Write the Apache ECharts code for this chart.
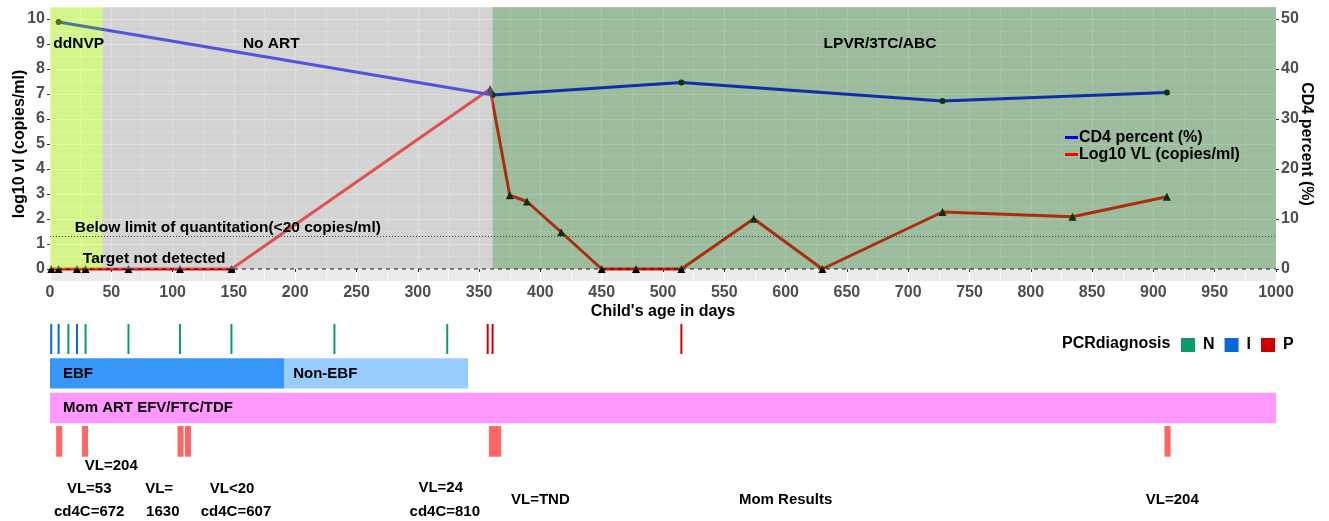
<!DOCTYPE html>
<html><head><meta charset="utf-8">
<script src="https://cdn.jsdelivr.net/npm/echarts@6/dist/echarts.min.js"></script>
<style>html,body{margin:0;padding:0;background:#fff}#c{width:1329px;height:521px}</style>
</head><body><div id="c"></div>
<script>
// ---------------- data ----------------
const vlDays   = [1, 7, 22, 29, 64, 106, 148, 359, 375, 389, 417, 450, 478, 515, 574, 630, 728, 834, 911];
const vlLog10  = [0, 0, 0, 0, 0, 0, 0, 7.2, 2.95, 2.7, 1.47, 0, 0, 0, 2.01, 0, 2.28, 2.09, 2.89];
const cd4Days    = [7, 361, 515, 728, 911];
const cd4Percent = [49.4, 34.8, 37.3, 33.6, 35.3];

const phaseLabels = ['ddNVP', 'No ART', 'LPVR/3TC/ABC'];
const phaseStart  = [0, 43, 361];
const phaseEnd    = [43, 361, 1000];

const refLineLabels = ['Target not detected', 'Below limit of quantitation(<20 copies/ml)'];
const refLineValues = [0, Math.log10(20)];

const pcrDays   = [1, 7, 15, 22, 29, 64, 106, 148, 232, 324, 357, 361, 515];
const pcrResult = ['I', 'I', 'N', 'I', 'N', 'N', 'N', 'N', 'N', 'N', 'P', 'P', 'P'];
const pcrClasses = ['N', 'I', 'P'];

const feedLabels = ['EBF', 'Non-EBF'];
const feedStart  = [0, 191];
const feedEnd    = [191, 341];

const momArtLabel = 'Mom ART EFV/FTC/TDF';
const momArtStart = 0;
const momArtEnd   = 1000;

const momResultDays = [7.5, 28.5, 106.5, 112.5, 360.5, 365.5, 911.5];

const momTexts   = ['VL=204', 'VL=53', 'cd4C=672', 'VL=', '1630', 'VL<20', 'cd4C=607', 'VL=24', 'cd4C=810', 'VL=TND', 'Mom Results', 'VL=204'];
const momTextDay = [50, 32, 32, 89, 92, 148.5, 151.7, 318.7, 322, 400, 600, 915.4];

// ---------------- layout / style ----------------
const FONT = "'Liberation Sans', Arial, Helvetica, sans-serif";
const Y_MIN = -0.48, Y_MAX = 10.48;
const CD4_MIN = -2.4, CD4_MAX = 52.4;
const PHASE_FILL = ['rgba(184,255,24,0.45)', 'rgba(181,181,181,0.45)', 'rgba(40,115,40,0.40)'];
const PHASE_LABEL_POS = [[2.7, 9.0, 'left'], [180.5, 9.0, 'center'], [677, 9.0, 'center']];
const REF_LABEL_POS = [[85, 0.42], [145, 1.64]];
const PCR_COLORS = {N: '#0D9A6B', I: '#0A68D6', P: '#CC0000'};
const FEED_COLORS = ['#3696FA', '#99CCFF'];
const ART_COLOR = '#FF99FF';
const MOM_TICK_COLOR = '#FF6666';
const MOM_TICK_WIDTH = 5; // days
// bottom panel rows (in bottom-axis units = px below grid top)
const ROW_PCR = [4, 34], ROW_FEED = [38.3, 68.5], ROW_ART = [72.7, 103.3], ROW_MOM = [106, 136.7];
const MOM_TEXT_ROW = [145.7, 169, 191.7, 169, 191.7, 169, 191.7, 168.3, 191.7, 180.3, 180.3, 180.3];

const AX_LABEL = {color: '#4D4D4D', fontWeight: 'bold', fontSize: 16, fontFamily: FONT};
const AX_NAME = {color: '#000', fontWeight: 'bold', fontSize: 16, fontFamily: FONT};
const TXT_FONT = 'bold 15.5px ' + FONT;
const BOT_FONT = 'bold 15px ' + FONT;

const chart = echarts.init(document.getElementById('c'), null, {renderer: 'canvas'});

function pcrSeries(cls) {
  return {
    type: 'custom', name: cls, xAxisIndex: 1, yAxisIndex: 2, z: 5, silent: true,
    itemStyle: {color: PCR_COLORS[cls]},
    data: pcrDays.filter((d, i) => pcrResult[i] === cls).map(d => [d]),
    encode: {x: 0},
    renderItem(params, api) {
      const a = api.coord([api.value(0), ROW_PCR[0]]);
      const b = api.coord([api.value(0), ROW_PCR[1]]);
      return {type: 'line', shape: {x1: a[0], y1: a[1], x2: b[0], y2: b[1]},
        style: {stroke: PCR_COLORS[cls], lineWidth: 2}};
    }
  };
}

function barItem(api, s, e, row, fill, label, pad) {
  const a = api.coord([s, row[0]]);
  const b = api.coord([e, row[1]]);
  return {type: 'group', children: [
    {type: 'rect', shape: {x: a[0], y: a[1], width: b[0] - a[0], height: b[1] - a[1]}, style: {fill: fill}},
    {type: 'text', x: a[0] + pad, y: (a[1] + b[1]) / 2,
      style: {text: label, font: BOT_FONT, fill: '#000', align: 'left', verticalAlign: 'middle'}}
  ]};
}

const option = {
  animation: false,
  backgroundColor: '#fff',
  grid: [
    {left: 50, right: 53, top: 7, height: 274, show: true, backgroundColor: '#EBEBEB', borderWidth: 0,
      containLabel: false, outerBoundsMode: 'none'},
    {left: 50, right: 53, top: 320, height: 200, containLabel: false, outerBoundsMode: 'none'}
  ],
  xAxis: [
    {gridIndex: 0, type: 'value', min: 0, max: 1000, interval: 50,
      name: "Child's age in days", nameLocation: 'middle', nameGap: 23, nameMoveOverlap: false, nameTextStyle: AX_NAME,
      axisLine: {show: false}, axisTick: {show: true, length: 3, lineStyle: {color: '#333'}},
      axisLabel: Object.assign({margin: 4, interval: 0, formatter: v => String(v)}, AX_LABEL),
      splitLine: {show: true, lineStyle: {color: '#fff', width: 1.2}},
      minorTick: {show: false, splitNumber: 2},
      minorSplitLine: {show: true, lineStyle: {color: '#fff', width: 0.6}}},
    {gridIndex: 1, type: 'value', min: 0, max: 1000, show: false}
  ],
  yAxis: [
    {gridIndex: 0, type: 'value', min: Y_MIN, max: Y_MAX, splitNumber: 11,
      name: 'log10 vl (copies/ml)', nameLocation: 'middle', nameGap: 22, nameMoveOverlap: false, nameTextStyle: AX_NAME,
      axisLine: {show: false}, axisTick: {show: true, length: 3, lineStyle: {color: '#333'}},
      axisLabel: Object.assign({margin: 5, showMinLabel: false, showMaxLabel: false}, AX_LABEL),
      splitLine: {show: true, lineStyle: {color: '#fff', width: 1.2}},
      minorTick: {show: false, splitNumber: 2},
      minorSplitLine: {show: true, lineStyle: {color: '#fff', width: 0.6}}},
    {gridIndex: 0, type: 'value', position: 'right', min: CD4_MIN, max: CD4_MAX, splitNumber: 5,
      name: 'CD4 percent (%)', nameLocation: 'middle', nameRotate: -90, nameGap: 22, nameMoveOverlap: false, nameTextStyle: AX_NAME,
      axisLine: {show: false}, axisTick: {show: true, length: 3, lineStyle: {color: '#333'}},
      axisLabel: Object.assign({margin: 5, showMinLabel: false, showMaxLabel: false}, AX_LABEL),
      splitLine: {show: false}},
    {gridIndex: 1, type: 'value', min: 0, max: 200, inverse: true, show: false}
  ],
  legend: [
    {data: [
        {name: 'CD4 percent (%)', icon: 'rect', itemStyle: {color: '#0000FF', borderWidth: 0}},
        {name: 'Log10 VL (copies/ml)', icon: 'rect', itemStyle: {color: '#FF0000', borderWidth: 0}}],
      orient: 'vertical', left: 1065, top: 129, itemWidth: 13, itemHeight: 3, itemGap: 0, padding: 0, z: 50,
      selectedMode: false,
      textStyle: {fontSize: 16, fontWeight: 'bold', color: '#000', fontFamily: FONT, lineHeight: 17, padding: [0, 0, 0, -4]}},
    {data: pcrClasses, orient: 'horizontal', left: 1181, top: 337, itemWidth: 14, itemHeight: 14, itemGap: 10,
      padding: 0, z: 50, selectedMode: false, icon: 'rect',
      textStyle: {fontSize: 16, fontWeight: 'bold', color: '#000', fontFamily: FONT, padding: [0, 0, 0, 3]}}
  ],
  graphic: [
    {type: 'text', left: 1062, top: 336, style: {text: 'PCRdiagnosis', font: 'bold 16px ' + FONT, fill: '#000'}}
  ],
  series: [
    {name: 'Log10 VL (copies/ml)', type: 'line', xAxisIndex: 0, yAxisIndex: 0, z: 2,
      data: vlDays.map((d, i) => [d, vlLog10[i]]),
      lineStyle: {color: '#FF0000', width: 3}, itemStyle: {color: '#000'},
      symbol: 'triangle', symbolSize: 8, showSymbol: true, silent: true},
    {name: 'CD4 percent (%)', type: 'line', xAxisIndex: 0, yAxisIndex: 1, z: 3,
      data: cd4Days.map((d, i) => [d, cd4Percent[i]]),
      lineStyle: {color: '#0000FF', width: 3}, itemStyle: {color: '#000'},
      symbol: 'circle', symbolSize: 6, showSymbol: true, silent: true},
    // regimen phase rectangles (semi-transparent, on top of lines)
    {type: 'custom', name: 'phases', xAxisIndex: 0, yAxisIndex: 0, z: 10, silent: true,
      data: phaseStart.map((s, i) => [s, phaseEnd[i]]),
      encode: {x: [0, 1]},
      renderItem(params, api) {
        const a = api.coord([api.value(0), 0]);
        const b = api.coord([api.value(1), 0]);
        const top = params.coordSys.y;
        return {type: 'rect', shape: {x: a[0], y: top, width: b[0] - a[0], height: a[1] - top},
          style: {fill: PHASE_FILL[params.dataIndex]}};
      }},
    // reference lines
    {type: 'custom', name: 'refLines', xAxisIndex: 0, yAxisIndex: 0, z: 20, silent: true,
      data: refLineValues.map(v => [0, v]),
      encode: {y: 1},
      renderItem(params, api) {
        const y = api.coord([0, api.value(1)])[1];
        const cs = params.coordSys;
        const dashed = params.dataIndex === 0;
        return {type: 'line', shape: {x1: cs.x, y1: y, x2: cs.x + cs.width, y2: y},
          style: {stroke: dashed ? '#111' : '#444', lineWidth: 1, lineDash: dashed ? [4, 4] : [1, 2]}};
      }},
    // text annotations in main panel
    {type: 'custom', name: 'annotations', xAxisIndex: 0, yAxisIndex: 0, z: 30, silent: true,
      data: phaseLabels.map((t, i) => [PHASE_LABEL_POS[i][0], PHASE_LABEL_POS[i][1], 0, i])
        .concat(refLineLabels.map((t, i) => [REF_LABEL_POS[i][0], REF_LABEL_POS[i][1], 1, i])),
      encode: {x: 0, y: 1},
      renderItem(params, api) {
        const p = api.coord([api.value(0), api.value(1)]);
        const kind = api.value(2), idx = api.value(3);
        const text = kind === 0 ? phaseLabels[idx] : refLineLabels[idx];
        const align = kind === 0 ? PHASE_LABEL_POS[idx][2] : 'center';
        return {type: 'text', x: p[0], y: p[1],
          style: {text: text, font: TXT_FONT, fill: '#000', align: align, verticalAlign: 'middle'}};
      }},
    // ---- bottom panel ----
    pcrSeries('N'), pcrSeries('I'), pcrSeries('P'),
    {type: 'custom', name: 'feeding', xAxisIndex: 1, yAxisIndex: 2, z: 5, silent: true,
      data: feedStart.map((s, i) => [s, feedEnd[i]]),
      encode: {x: [0, 1]},
      renderItem(params, api) {
        const i = params.dataIndex;
        return barItem(api, api.value(0), api.value(1), ROW_FEED, FEED_COLORS[i], feedLabels[i], i === 0 ? 13 : 9);
      }},
    {type: 'custom', name: 'momArt', xAxisIndex: 1, yAxisIndex: 2, z: 5, silent: true,
      data: [[momArtStart, momArtEnd]],
      encode: {x: [0, 1]},
      renderItem(params, api) {
        return barItem(api, api.value(0), api.value(1), ROW_ART, ART_COLOR, momArtLabel, 13);
      }},
    {type: 'custom', name: 'momResults', xAxisIndex: 1, yAxisIndex: 2, z: 5, silent: true,
      data: momResultDays.map(d => [d]),
      encode: {x: 0},
      renderItem(params, api) {
        const a = api.coord([api.value(0) - MOM_TICK_WIDTH / 2, ROW_MOM[0]]);
        const b = api.coord([api.value(0) + MOM_TICK_WIDTH / 2, ROW_MOM[1]]);
        return {type: 'rect', shape: {x: a[0], y: a[1], width: b[0] - a[0], height: b[1] - a[1]},
          style: {fill: MOM_TICK_COLOR}};
      }},
    {type: 'custom', name: 'momTexts', xAxisIndex: 1, yAxisIndex: 2, z: 5, silent: true,
      data: momTextDay.map((d, i) => [d, MOM_TEXT_ROW[i]]),
      encode: {x: 0, y: 1},
      renderItem(params, api) {
        const p = api.coord([api.value(0), api.value(1)]);
        return {type: 'text', x: p[0], y: p[1],
          style: {text: momTexts[params.dataIndex], font: BOT_FONT, fill: '#000', align: 'center', verticalAlign: 'middle'}};
      }}
  ]
};
chart.setOption(option);
</script>
</body></html>
